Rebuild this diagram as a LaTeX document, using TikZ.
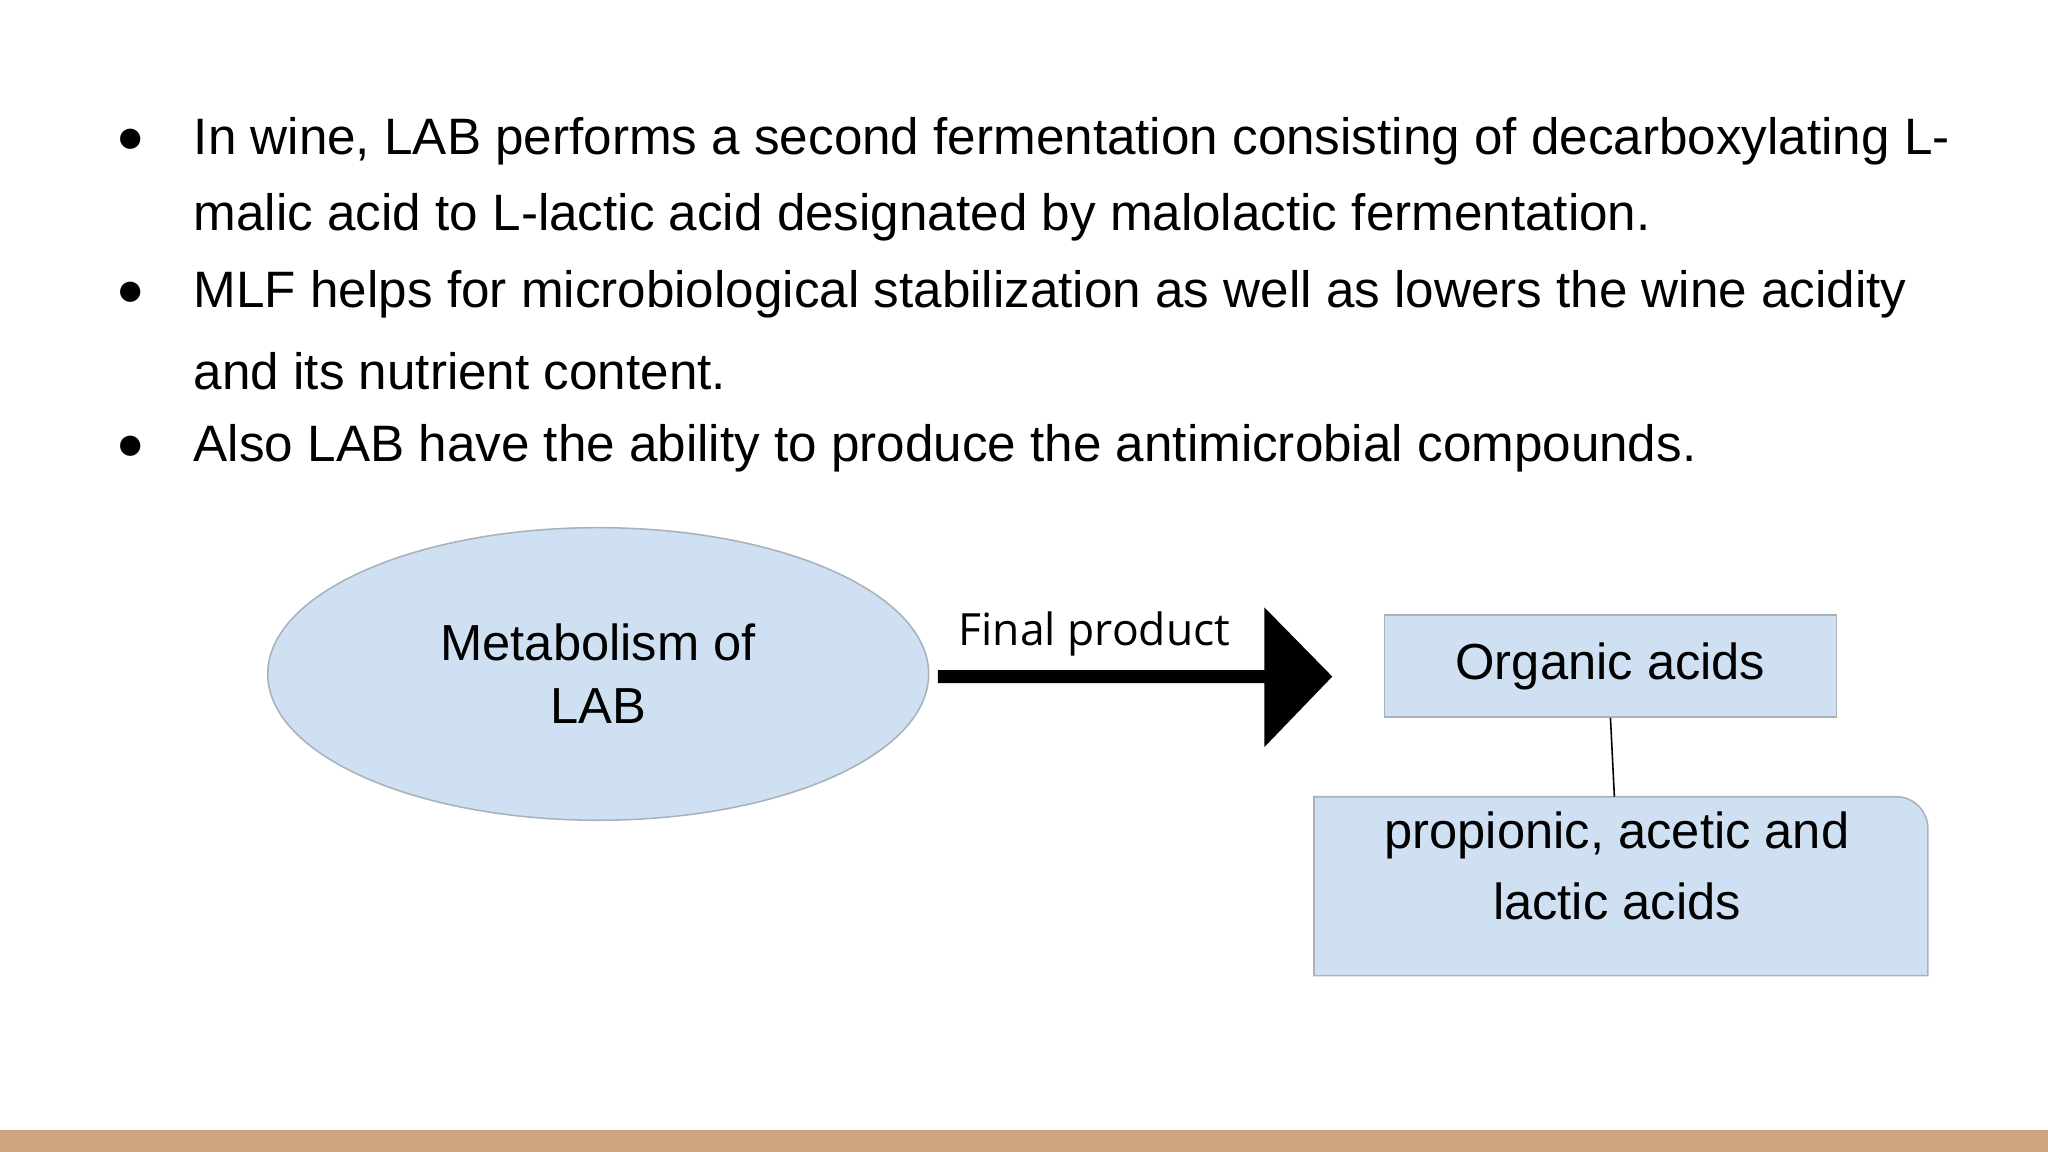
\documentclass[tikz,border=0pt]{standalone}
\usepackage{fontspec}
\setmainfont{Liberation Sans}
\newfontfamily\osans{Open Sans}
\usetikzlibrary{shapes.geometric}
\definecolor{boxfill}{HTML}{CFE0F3}
\definecolor{boxline}{HTML}{A8B2BC}
\definecolor{barcol}{HTML}{CCA47E}
\begin{document}
\begin{tikzpicture}[x=0.5pt,y=-0.5pt,
  body/.style={anchor=west,inner sep=0pt,font=\fontsize{19.6}{19.6}\selectfont},
  bul/.style={inner sep=0pt,font=\fontsize{18}{18}\selectfont},
  shapefill/.style={fill=boxfill,draw=boxline,line width=0.6pt}]
\useasboundingbox (0,0) rectangle (1568,882);
\fill[barcol] (0,865) rectangle (1568,882);
\node[bul] (b1) at (100,108) {●};
\node[bul] (b2) at (100,225) {●};
\node[bul] (b3) at (100,343) {●};
\node[body] (t1) at (148,108) {In wine, LAB performs a second fermentation consisting of decarboxylating L-};
\node[body] (t2) at (148,166) {malic acid to L-lactic acid designated by malolactic fermentation.};
\node[body] (t3) at (148,225) {MLF helps for microbiological stabilization as well as lowers the wine acidity};
\node[body] (t4) at (148,284) {and its nutrient content.};
\node[body] (t5) at (148,343) {Also LAB have the ability to produce the antimicrobial compounds.};
\node[shapefill,ellipse,minimum width=253pt,minimum height=112pt,align=center,
  font=\fontsize{19.4}{24}\selectfont] (met) at (458,516) {Metabolism of\\LAB};
\fill (718,513) -- (968,513) -- (968,465) -- (1020,518) -- (968,572) -- (968,523) -- (718,523) -- cycle;
\node[font=\osans\fontsize{17}{17}\selectfont,inner sep=0pt] (fp) at (838,485) {Final product};
\node[shapefill,minimum width=173pt,minimum height=39pt,inner sep=0pt,
  font=\fontsize{19.4}{19.4}\selectfont] (org) at (1233,510) {Organic acids};
\draw[shapefill] (1006,610) -- (1452,610) .. controls (1465,610) and (1476,621) .. (1476,634) -- (1476,747) -- (1006,747) -- cycle;
\node[align=center,inner sep=0pt,font=\fontsize{19.4}{27}\selectfont] (pro) at (1238,663) {propionic, acetic and\\lactic acids};
\coordinate (pt) at (1236,610);
\draw[line width=0.6pt] (org.south) -- (pt);
\end{tikzpicture}
\end{document}
